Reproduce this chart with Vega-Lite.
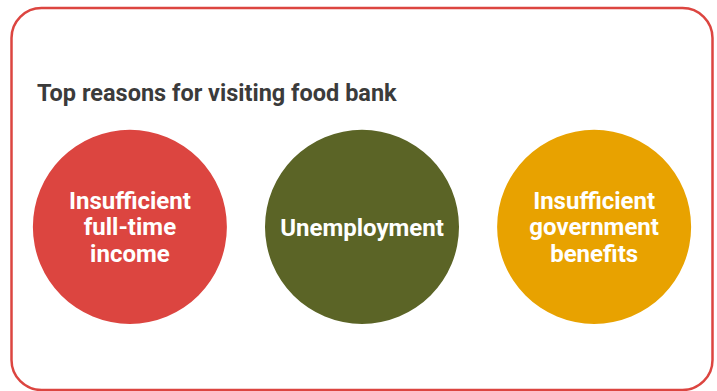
{
  "$schema": "https://vega.github.io/schema/vega-lite/v6.json",
  "width": 701,
  "height": 382,
  "autosize": {"type": "none"},
  "padding": {"left": 11.5, "top": 8, "right": 4.5, "bottom": 1},
  "background": "#ffffff",
  "config": {
    "view": {"stroke": "#DC4540", "strokeWidth": 2.5, "cornerRadius": 30, "fill": "#ffffff"},
    "font": "Roboto"
  },
  "title": {
    "text": "Top reasons for visiting food bank",
    "anchor": "start",
    "frame": "group",
    "orient": "top",
    "offset": -97,
    "dx": 25.5,
    "font": "Roboto",
    "fontSize": 23.5,
    "fontWeight": "bold",
    "color": "#3b3b3b"
  },
  "data": {
    "values": [
      {"reason": "Insufficient full-time income", "lines": ["Insufficient", "full-time", "income"], "group": "top reasons"},
      {"reason": "Unemployment", "lines": ["Unemployment"], "group": "top reasons"},
      {"reason": "Insufficient government benefits", "lines": ["Insufficient", "government", "benefits"], "group": "top reasons"}
    ]
  },
  "encoding": {
    "x": {
      "field": "reason",
      "type": "nominal",
      "sort": null,
      "scale": {"type": "point", "padding": 0.51},
      "axis": null
    },
    "y": {
      "field": "group",
      "type": "nominal",
      "scale": {"type": "point", "align": 0.573, "padding": 0.5},
      "axis": null
    }
  },
  "layer": [
    {
      "mark": {"type": "point", "shape": "circle", "filled": true, "opacity": 1, "size": 37636, "strokeWidth": 0},
      "encoding": {
        "color": {
          "field": "reason",
          "type": "nominal",
          "scale": {
            "domain": ["Insufficient full-time income", "Unemployment", "Insufficient government benefits"],
            "range": ["#DC4540", "#5B6426", "#E8A200"]
          },
          "legend": null
        }
      }
    },
    {
      "transform": [{"filter": "length(datum.lines) == 1"}],
      "mark": {
        "type": "text",
        "font": "Roboto",
        "fontSize": 24,
        "fontWeight": "bold",
        "color": "#ffffff",
        "align": "center",
        "baseline": "middle",
        "lineHeight": 27,
        "dy": 2
      },
      "encoding": {
        "text": {"field": "lines"}
      }
    },
    {
      "transform": [{"filter": "length(datum.lines) == 3"}],
      "mark": {
        "type": "text",
        "font": "Roboto",
        "fontSize": 24,
        "fontWeight": "bold",
        "color": "#ffffff",
        "align": "center",
        "baseline": "middle",
        "lineHeight": 26.5,
        "dy": -25
      },
      "encoding": {
        "text": {"field": "lines"}
      }
    }
  ]
}
